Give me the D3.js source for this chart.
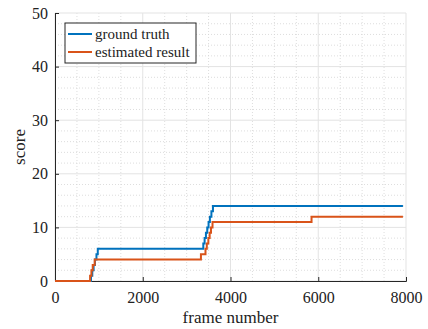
<!DOCTYPE html>
<html>
<head>
<meta charset="utf-8">
<script src="https://cdn.jsdelivr.net/npm/d3@7"></script>
<style>
  body { margin: 0; background: #fff; }
  svg { display: block; }
  svg text { font-family: "Liberation Serif", "Times New Roman", Times, serif !important; fill: #222; }
</style>
</head>
<body>
<div id="chart"></div>
<script>
// ===== data (step changes: frame where value starts)
var truthFrames = [0, 820, 850, 880, 910, 945, 975, 3380, 3410, 3440, 3470, 3500, 3530, 3565, 3600, 7930];
var truthValues = [0, 1, 2, 3, 4, 5, 6, 7, 8, 9, 10, 11, 12, 13, 14, 14];

var estFrames = [0, 800, 830, 860, 905, 3326, 3430, 3460, 3495, 3525, 3555, 3590, 5847, 7930];
var estValues = [0, 1, 2, 3, 4, 5, 6, 7, 8, 9, 10, 11, 12, 12];

var xTicks = [0, 2000, 4000, 6000, 8000];
var yTicks = [0, 10, 20, 30, 40, 50];
var seriesNames = ["ground truth", "estimated result"];
var seriesColors = ["#0072BD", "#D95319"];

var serif = '"Liberation Serif", "Times New Roman", Times, serif';

// ===== sizes
var svgWidth = 428, svgHeight = 329;
var margin = { top: 13, right: 22, bottom: 48, left: 55 };
var width = svgWidth - margin.left - margin.right;
var height = svgHeight - margin.top - margin.bottom;

var svg = d3.select("#chart").append("svg")
    .attr("width", svgWidth)
    .attr("height", svgHeight)
    .attr("font-family", serif);

var chartGroup = svg.append("g")
    .attr("transform", `translate(${margin.left}, ${margin.top})`);

var x = d3.scaleLinear().domain([0, 8000]).range([0, width]);
var y = d3.scaleLinear().domain([0, 50]).range([height, 0]);

// ===== minor grid (dotted)
var xMinor = d3.range(0, 8001, 500).filter(d => d % 2000 !== 0);
var yMinor = d3.range(0, 51, 2).filter(d => d % 10 !== 0);

chartGroup.selectAll(".xminor").data(xMinor).enter().append("line")
    .attr("x1", d => x(d)).attr("x2", d => x(d))
    .attr("y1", 0).attr("y2", height)
    .attr("stroke", "#d4d4d4").attr("stroke-width", 0.8)
    .attr("stroke-dasharray", "1,2");

chartGroup.selectAll(".yminor").data(yMinor).enter().append("line")
    .attr("x1", 0).attr("x2", width)
    .attr("y1", d => y(d)).attr("y2", d => y(d))
    .attr("stroke", "#d4d4d4").attr("stroke-width", 0.8)
    .attr("stroke-dasharray", "1,2");

// ===== major grid (solid light)
chartGroup.selectAll(".xmajor").data(xTicks).enter().append("line")
    .attr("x1", d => x(d)).attr("x2", d => x(d))
    .attr("y1", 0).attr("y2", height)
    .attr("stroke", "#e3e3e3").attr("stroke-width", 1);

chartGroup.selectAll(".ymajor").data(yTicks).enter().append("line")
    .attr("x1", 0).attr("x2", width)
    .attr("y1", d => y(d)).attr("y2", d => y(d))
    .attr("stroke", "#e3e3e3").attr("stroke-width", 1);

// ===== axes
var bottomAxis = d3.axisBottom(x).tickValues(xTicks).tickSize(-4).tickPadding(9).tickFormat(d3.format("d"));
var leftAxis = d3.axisLeft(y).tickValues(yTicks).tickSize(-4).tickPadding(7);

var xAxis = chartGroup.append("g")
    .attr("transform", `translate(0, ${height})`)
    .call(bottomAxis);
var yAxis = chartGroup.append("g").call(leftAxis);

[xAxis, yAxis].forEach(function(ax) {
    ax.attr("font-family", serif).attr("font-size", 16);
    ax.select(".domain").attr("stroke", "#262626");
    ax.selectAll(".tick line").attr("stroke", "#262626");
    ax.selectAll(".tick text")
        .attr("font-family", serif)
        .attr("font-size", 16)
        .attr("fill", "#222");
});
xAxis.selectAll(".tick text").attr("dy", "0.8em");

// ===== lines
var line = d3.line()
    .x(d => x(d[0]))
    .y(d => y(d[1]))
    .curve(d3.curveStepAfter);

var truthData = truthFrames.map((f, i) => [f, truthValues[i]]);
var estData = estFrames.map((f, i) => [f, estValues[i]]);

chartGroup.append("path")
    .datum(truthData)
    .attr("d", line)
    .attr("fill", "none")
    .attr("stroke", seriesColors[0])
    .attr("stroke-width", 2);

chartGroup.append("path")
    .datum(estData)
    .attr("d", line)
    .attr("fill", "none")
    .attr("stroke", seriesColors[1])
    .attr("stroke-width", 2);

// ===== axis labels
svg.append("text")
    .attr("x", margin.left + width / 2)
    .attr("y", 323)
    .attr("text-anchor", "middle")
    .attr("font-size", 17)
    .text("frame number");

svg.append("text")
    .attr("transform", "rotate(-90)")
    .attr("x", -(margin.top + height / 2))
    .attr("y", 25)
    .attr("text-anchor", "middle")
    .attr("font-size", 17)
    .text("score");

// ===== legend
var legend = svg.append("g").attr("transform", "translate(65, 23)");
legend.append("rect")
    .attr("width", 131).attr("height", 40)
    .attr("fill", "#fff")
    .attr("stroke", "#262626").attr("stroke-width", 1);

seriesNames.forEach(function(name, i) {
    var ly = 11 + i * 18;
    legend.append("line")
        .attr("x1", 3).attr("x2", 27)
        .attr("y1", ly).attr("y2", ly)
        .attr("stroke", seriesColors[i]).attr("stroke-width", 2);
    legend.append("text")
        .attr("x", 30).attr("y", ly + 4.5)
        .attr("font-size", 15)
        .text(name);
});
</script>
</body>
</html>
